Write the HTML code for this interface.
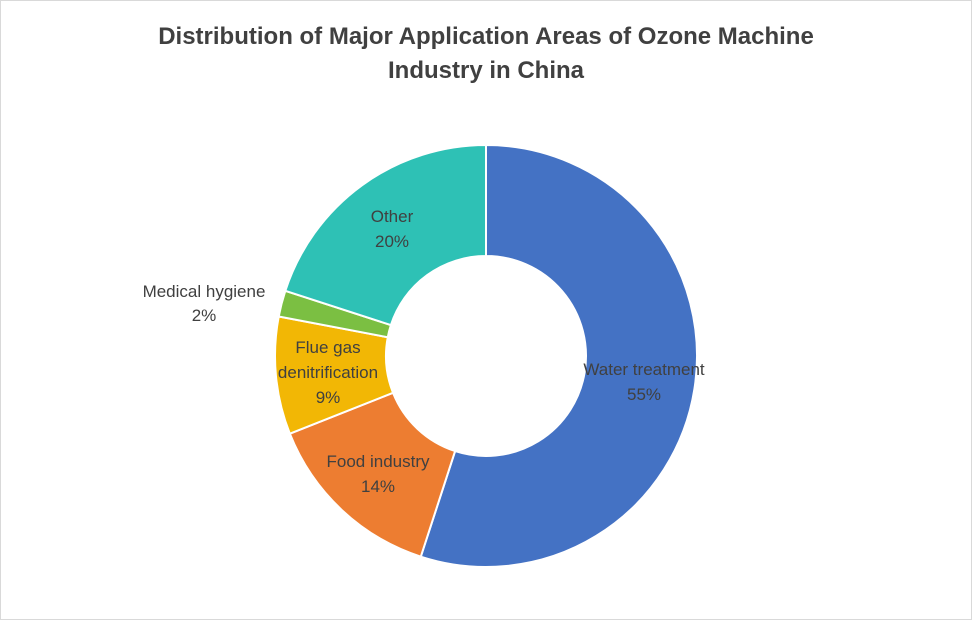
<!DOCTYPE html>
<html><head><meta charset="utf-8"><style>
body{margin:0;background:#fff;}
#c{position:relative;width:973px;height:621px;font-family:"Liberation Sans",sans-serif;}
</style></head><body>
<div id="c">
<svg id="s" width="973" height="621">
<rect x="0.5" y="0.5" width="971" height="619" fill="#fff" stroke="#d9d9d9"/>
<text x="486" y="44" text-anchor="middle" font-size="24" font-weight="bold" fill="#404040">Distribution of Major Application Areas of Ozone Machine</text>
<text x="486" y="78" text-anchor="middle" font-size="24" font-weight="bold" fill="#404040">Industry in China</text>
<g id="slices"></g>
<g id="labels"></g>
</svg>
</div>
<script>
const categories=["Water treatment","Food industry","Flue gas denitrification","Medical hygiene","Other"];
const values=[55,14,9,2,20];
const valueLabels=["55%","14%","9%","2%","20%"];
const colors=["#4472C4","#ED7D31","#F2B705","#7BBF42","#2EC1B5"];
const cx=486,cy=356,R=211,r=100;
const ns="http://www.w3.org/2000/svg";
const total=values.reduce((a,b)=>a+b,0);
const g=document.getElementById('slices');
let a0=0;
function pt(rad,a){return [cx+rad*Math.sin(a),cy-rad*Math.cos(a)];}
values.forEach((v,i)=>{
  const a1=a0+v/total*2*Math.PI;
  const large=(a1-a0)>Math.PI?1:0;
  const p1=pt(R,a0),p2=pt(R,a1),p3=pt(r,a1),p4=pt(r,a0);
  const p=document.createElementNS(ns,'path');
  p.setAttribute('d',`M${p1[0]},${p1[1]} A${R},${R} 0 ${large} 1 ${p2[0]},${p2[1]} L${p3[0]},${p3[1]} A${r},${r} 0 ${large} 0 ${p4[0]},${p4[1]} Z`);
  p.setAttribute('fill',colors[i]);
  p.setAttribute('stroke','#fff');
  p.setAttribute('stroke-width','2');
  
  
  g.appendChild(p);
  a0=a1;
});
const L=document.getElementById('labels');
const labelPos=[[644,[["Water treatment",375],["55%",400]]],[378,[["Food industry",467],["14%",492]]],[328,[["Flue gas",353],["denitrification",378],["9%",403]]],[204,[["Medical hygiene",297],["2%",321]]],[392,[["Other",222],["20%",247]]]];
labelPos.forEach((lp,i)=>{
  lp[1].forEach(([txt,y],j)=>{
    const t=document.createElementNS(ns,'text');
    t.setAttribute('x',lp[0]);t.setAttribute('y',y);
    t.setAttribute('text-anchor','middle');t.setAttribute('font-size','17');t.setAttribute('fill','#404040');
    t.textContent=(j===lp[1].length-1)?valueLabels[i]:txt;
    
    
    L.appendChild(t);
  });
});
</script>
</body></html>
